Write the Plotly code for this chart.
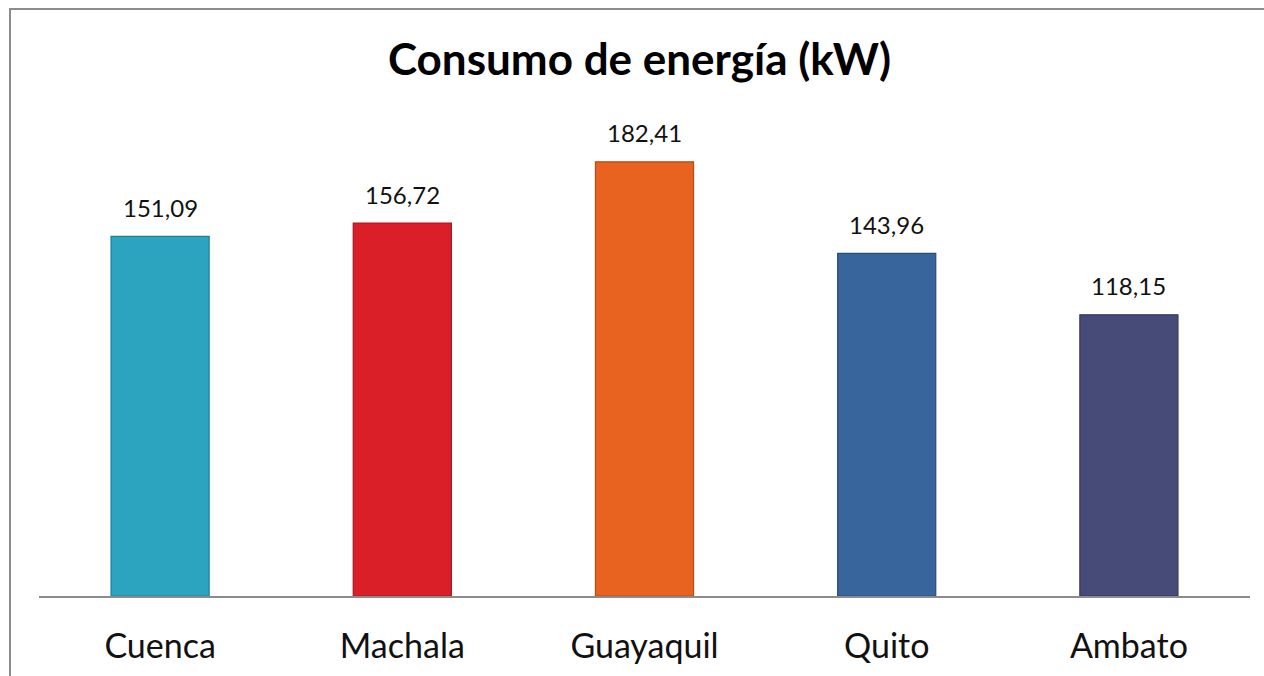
import plotly.graph_objects as go

categories = ["Cuenca", "Machala", "Guayaquil", "Quito", "Ambato"]
values = [151.09, 156.72, 182.41, 143.96, 118.15]
fill_colors = ["#2CA3BF", "#DA1F29", "#E8631F", "#37659C", "#474B78"]
line_colors = ["#1F7F96", "#A8161E", "#B84A12", "#284D7A", "#33375C"]
title_text = "Consumo de energía (kW)"

FONT = "Lato, Open Sans, sans-serif"

fig = go.Figure()
fig.add_trace(go.Bar(
    x=categories, y=values,
    marker=dict(color=fill_colors, line=dict(color=line_colors, width=1.2)),
    hoverinfo="skip",
))

for c, v in zip(categories, values):
    fig.add_annotation(
        x=c, y=v, text=f"{v:.2f}".replace(".", ","),
        showarrow=False, yshift=29, yanchor="middle",
        font=dict(family=FONT, size=24, color="#111111"),
    )

W, H = 1264, 676
L, R, T, B = 39, 14, 120, 80
pw, ph = W - L - R, H - T - B

def px(x):
    return (x - L) / pw

def py(y):
    return (H - B - y) / ph

fig.add_shape(type="rect", xref="paper", yref="paper",
              x0=px(10), x1=px(1300), y0=py(720), y1=py(9),
              line=dict(color="#8C8C8C", width=2), layer="below")

fig.update_layout(
    width=W, height=H,
    margin=dict(l=L, r=R, t=T, b=B, autoexpand=False),
    paper_bgcolor="white", plot_bgcolor="white",
    showlegend=False,
    bargap=0.595,
    title=dict(text=f"<b>{title_text}</b>", x=px(639.5), xref="paper", xanchor="center",
               y=1 - 60 / H, yanchor="middle",
               font=dict(family=FONT, size=44, color="#000000")),
    font=dict(family=FONT),
)
fig.update_xaxes(showline=True, linecolor="#8C8C8C", linewidth=1.5,
                 ticks="", ticklabelstandoff=19, automargin=False,
                 tickfont=dict(family=FONT, size=34, color="#111111"))
fig.update_yaxes(range=[0, 200], visible=False, showgrid=False, zeroline=False,
                 automargin=False)

fig.write_html(
    "out.html",
    config={"displayModeBar": False},
    post_script="document.body.style.margin='0';"
                "document.body.style.overflow='hidden';"
                "document.documentElement.style.overflow='hidden';",
)
